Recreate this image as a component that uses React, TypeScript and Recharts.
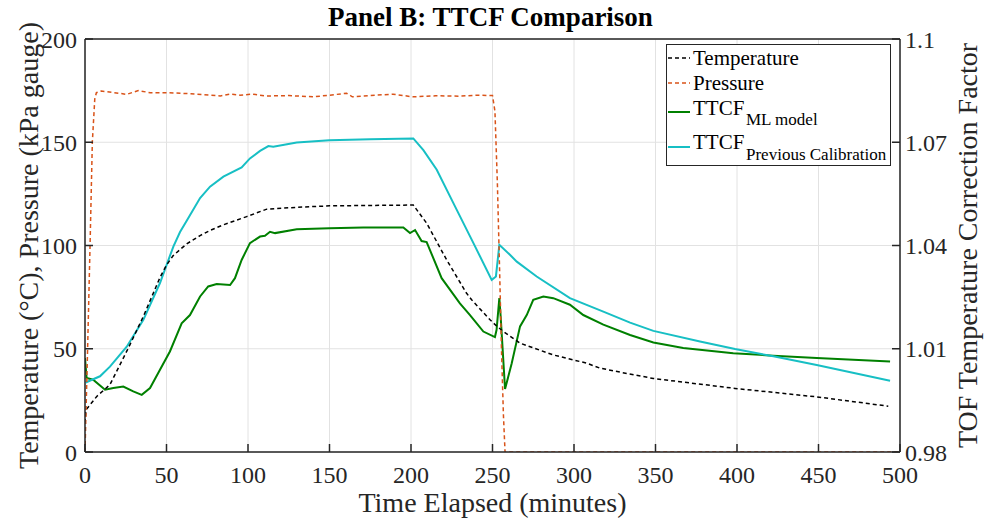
import { CartesianGrid, Label, Legend, Line, LineChart, XAxis, YAxis } from 'recharts'

// [minutes, °C]
const temperature: [number, number][] = [
  [0, 14], [0.6, 20.4], [7.2, 26.9], [15.3, 32.6], [23.5, 45.5], [27.6, 52], [36, 66],
  [46, 84.5], [50, 90.5], [54, 95], [58.3, 98], [62.4, 100.8], [70.6, 104.8], [76.7, 107.3],
  [84.9, 110], [99.2, 114], [111.5, 117.6], [129.9, 118.5], [150, 119.2], [201.4, 119.6],
  [209.6, 110.8], [221.9, 93], [234, 77], [237.2, 73.7], [248.5, 64], [252.5, 61],
  [256.6, 58.4], [266.9, 52.7], [287.3, 47], [307.8, 43], [316, 40.6], [333.3, 37.9],
  [348.7, 35.6], [398.8, 30.8], [448.9, 26.7], [492.8, 22.2],
]

// [minutes, kPa gauge]
const pressure: [number, number][] = [
  [0, 0], [1.6, 50], [3.1, 100], [4.5, 150], [6, 171], [7, 174], [10, 174.8], [18, 174],
  [25.6, 173.2], [32.7, 175], [40, 174], [50, 174], [65, 173.5], [83, 172.4], [89, 173.3],
  [95, 172.8], [103, 173.3], [111, 172.4], [125, 172.6], [140, 172], [150, 172.8],
  [160.5, 173.7], [164, 172], [175, 172.6], [189, 173.3], [201, 172], [215, 172.5],
  [230, 172.3], [240, 172.8], [250, 172.6], [251.5, 165], [253, 130], [254.3, 90],
  [255.5, 50], [256.7, 18], [257.7, 0], [500, 0],
]

// [minutes, correction factor]
const ttcfMl: [number, number][] = [
  [0, 1.0073], [1, 1.0015], [5, 1.001], [12.3, 0.9981], [17.4, 0.9986], [23.5, 0.999],
  [29.6, 0.9976], [34.8, 0.9966], [39.9, 0.9986], [46, 1.0039], [52.1, 1.0092],
  [59.3, 1.0174], [64.4, 1.0198], [70.6, 1.0252], [75.6, 1.0281], [80.8, 1.0288],
  [89, 1.0285], [92, 1.0305], [96.1, 1.0358], [101.2, 1.0407], [107.4, 1.0426],
  [110.4, 1.0428], [113.5, 1.044], [116.6, 1.0436], [129.9, 1.0447], [150, 1.045],
  [170.7, 1.0452], [195.3, 1.0452], [199.4, 1.0436], [202.5, 1.0445], [206.5, 1.0413],
  [209.6, 1.041], [218.8, 1.0305], [230, 1.0232], [236.2, 1.0198], [244.4, 1.015],
  [251.5, 1.0134], [252.5, 1.0155], [254.2, 1.0247], [255, 1.0194], [257.7, 0.9983],
  [261.8, 1.0058], [266.9, 1.0165], [271, 1.0198], [275, 1.0242], [281.2, 1.0252],
  [287.3, 1.0247], [297.5, 1.0228], [305.7, 1.0198], [318, 1.017], [334.4, 1.014],
  [348.7, 1.0118], [367, 1.0102], [397.7, 1.0087], [422.3, 1.008], [448.9, 1.0073],
  [493.9, 1.0063],
]

const ttcfPrevious: [number, number][] = [
  [0.4, 1.0002], [9.2, 1.002], [15.3, 1.0048], [25.6, 1.0106], [35.8, 1.0184],
  [46, 1.0291], [54.2, 1.0397], [58.3, 1.0439], [62.4, 1.0472], [70.6, 1.0538],
  [76.7, 1.0571], [84.9, 1.06], [96.1, 1.0627], [101.2, 1.0653], [107.4, 1.0675],
  [112.5, 1.0689], [115.5, 1.0687], [129.9, 1.0699], [150, 1.0706], [175, 1.0709],
  [201.4, 1.0711], [207.6, 1.0677], [215.8, 1.062], [226, 1.0523], [238.3, 1.0407],
  [249.5, 1.03], [252.1, 1.031], [254.2, 1.0402], [260.7, 1.0373], [264.9, 1.0353],
  [277.1, 1.031], [297.5, 1.0247], [318, 1.0208], [334.4, 1.0176], [348.7, 1.0152],
  [377.3, 1.0121], [398.8, 1.0099], [422.3, 1.0078], [448.9, 1.0053], [493.9, 1.0007],
]

const xTicks = [0, 50, 100, 150, 200, 250, 300, 350, 400, 450, 500]
const leftTicks = [0, 50, 100, 150, 200]
const rightTicks = [0.98, 1.01, 1.04, 1.07, 1.1]

const FONT = '"Liberation Serif", "DejaVu Serif", "Times New Roman", Times, serif'
const AXIS = '#262626'
const ORANGE = '#D95319'
const GREEN = '#008000'
const CYAN = '#17BFC4'
const LABEL_SIZE = 28

const toPoints = (rows: [number, number][]) => rows.map(([t, v]) => ({ t, v }))

// tick text with the serif family set as a style, bottom ticks hang below their anchor
const makeTick = (below: boolean) => (props: any) => {
  const { x, y, payload, textAnchor } = props
  return (
    <text
      x={x}
      y={y}
      dy={below ? '0.71em' : '0.355em'}
      textAnchor={textAnchor}
      fontSize={24}
      fill={AXIS}
      style={{ fontFamily: FONT }}
    >
      {payload.value}
    </text>
  )
}

function LegendBox() {
  return (
    <svg width={225} height={122} style={{ display: 'block' }}>
      <rect x={0.5} y={0.5} width={224} height={121} fill="#fff" stroke={AXIS} strokeWidth={1} />
      <g style={{ fontFamily: FONT }} fill="#000">
        <line x1={2} x2={24} y1={14} y2={14} stroke="#000" strokeWidth={1.5} strokeDasharray="4 3" />
        <text x={27} y={21} fontSize={21}>Temperature</text>
        <line x1={2} x2={24} y1={39} y2={39} stroke={ORANGE} strokeWidth={1.5} strokeDasharray="4 3" />
        <text x={27} y={46} fontSize={21}>Pressure</text>
        <line x1={2} x2={24} y1={68} y2={68} stroke={GREEN} strokeWidth={2} />
        <text x={27} y={71} fontSize={21}>TTCF</text>
        <text x={80} y={81} fontSize={17}>ML model</text>
        <line x1={2} x2={24} y1={103} y2={103} stroke={CYAN} strokeWidth={2} />
        <text x={27} y={105} fontSize={21}>TTCF</text>
        <text x={80} y={116} fontSize={17}>Previous Calibration</text>
      </g>
    </svg>
  )
}

export default function App() {
  return (
    <div style={{ position: 'absolute', left: 0, top: 0, width: 984, height: 523, background: '#fff', fontFamily: FONT }}>
      <LineChart
        width={984}
        height={523}
        margin={{ top: 38, right: 0, bottom: 0, left: 0 }}
        accessibilityLayer={false}
      >
        <CartesianGrid yAxisId="left" stroke="#e2e2e2" strokeWidth={1} />
        <XAxis
          dataKey="t"
          type="number"
          domain={[0, 500]}
          ticks={xTicks}
          height={71}
          stroke={AXIS}
          strokeWidth={1.5}
          tickSize={-8}
          tickMargin={22}
          tick={makeTick(true)}
          interval={0}
          allowDataOverflow
        >
          <Label
            value="Time Elapsed (minutes)"
            position="insideBottom"
            offset={11}
            style={{ fontSize: LABEL_SIZE, fontFamily: FONT, fill: AXIS }}
          />
        </XAxis>
        <XAxis
          xAxisId="top"
          orientation="top"
          dataKey="t"
          type="number"
          domain={[0, 500]}
          ticks={xTicks}
          height={1}
          stroke={AXIS}
          strokeWidth={1.5}
          tickSize={-8}
          tickFormatter={() => ''}
          interval={0}
        >
          <Label
            content={({ viewBox }: any) => (
              <text
                x={viewBox.x + viewBox.width / 2 - 2}
                y={26}
                textAnchor="middle"
                fontSize={27}
                fontWeight="bold"
                style={{ fontFamily: FONT }}
                fill="#000"
              >
                Panel B: TTCF Comparison
              </text>
            )}
          />
        </XAxis>
        <YAxis
          yAxisId="left"
          domain={[0, 200]}
          ticks={leftTicks}
          width={85}
          stroke={AXIS}
          strokeWidth={1.5}
          tickSize={-8}
          tickMargin={16}
          tick={makeTick(false)}
          interval={0}
          allowDataOverflow
        >
          <Label
            content={({ viewBox }: any) => (
              <text
                transform={`translate(38, ${viewBox.y + viewBox.height / 2}) rotate(-90)`}
                textAnchor="middle"
                fontSize={LABEL_SIZE}
                style={{ fontFamily: FONT }}
                fill={AXIS}
              >
                Temperature (°C), Pressure (kPa gauge)
              </text>
            )}
          />
        </YAxis>
        <YAxis
          yAxisId="right"
          orientation="right"
          domain={[0.98, 1.1]}
          ticks={rightTicks}
          width={84}
          stroke={AXIS}
          strokeWidth={1.5}
          tickSize={-8}
          tickMargin={13}
          tick={makeTick(false)}
          interval={0}
          allowDataOverflow
        >
          <Label
            content={({ viewBox }: any) => (
              <text
                transform={`translate(977, ${viewBox.y + viewBox.height / 2}) rotate(-90)`}
                textAnchor="middle"
                fontSize={LABEL_SIZE}
                style={{ fontFamily: FONT }}
                fill={AXIS}
              >
                TOF Temperature Correction Factor
              </text>
            )}
          />
        </YAxis>
        <Legend
          layout="vertical"
          align="center"
          verticalAlign="middle"
          wrapperStyle={{ position: 'absolute', left: 666, top: 44, width: 225, height: 122 }}
          content={() => <LegendBox />}
        />
        <Line
          yAxisId="right"
          data={toPoints(ttcfMl)}
          dataKey="v"
          name="TTCF ML model"
          type="linear"
          stroke={GREEN}
          strokeWidth={2}
          dot={false}
          activeDot={false}
          isAnimationActive={false}
        />
        <Line
          yAxisId="right"
          data={toPoints(ttcfPrevious)}
          dataKey="v"
          name="TTCF Previous Calibration"
          type="linear"
          stroke={CYAN}
          strokeWidth={2}
          dot={false}
          activeDot={false}
          isAnimationActive={false}
        />
        <Line
          yAxisId="left"
          data={toPoints(temperature)}
          dataKey="v"
          name="Temperature"
          type="linear"
          stroke="#000"
          strokeWidth={1.5}
          strokeDasharray="4 3"
          dot={false}
          activeDot={false}
          isAnimationActive={false}
        />
        <Line
          yAxisId="left"
          data={toPoints(pressure)}
          dataKey="v"
          name="Pressure"
          type="linear"
          stroke={ORANGE}
          strokeWidth={1.5}
          strokeDasharray="4 3"
          dot={false}
          activeDot={false}
          isAnimationActive={false}
        />
      </LineChart>
    </div>
  )
}
